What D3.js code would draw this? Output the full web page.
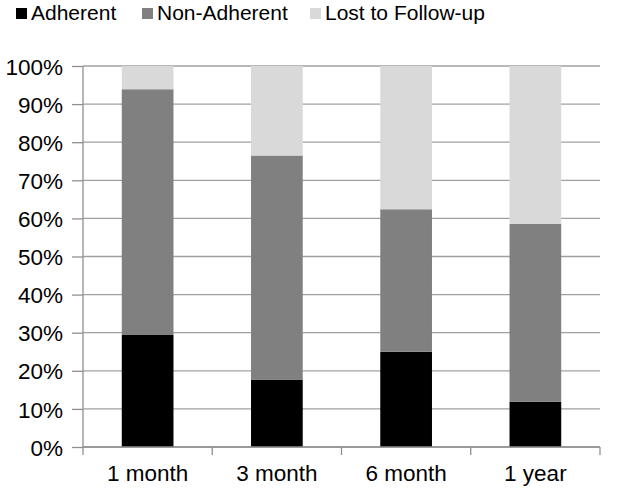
<!DOCTYPE html>
<html>
<head>
<meta charset="utf-8">
<script src="https://cdn.jsdelivr.net/npm/d3@7"></script>
<style>
  html, body { margin: 0; padding: 0; background: #fff; overflow: hidden; }
  svg { display: block; }
  text { font-family: "Liberation Sans", Arial, sans-serif; fill: #000; }
</style>
</head>
<body>
<svg width="618" height="489"></svg>
<script>
const categories = ["1 month", "3 month", "6 month", "1 year"];
const seriesNames = ["Adherent", "Non-Adherent", "Lost to Follow-up"];
const adherent = [29.4, 17.6, 25.0, 11.9];
const nonAdherent = [64.5, 58.9, 37.4, 46.7];
const lost = [6.1, 23.5, 37.6, 41.4];
const yTicks = [0, 10, 20, 30, 40, 50, 60, 70, 80, 90, 100];
const colors = ["#000000", "#808080", "#d9d9d9"];

const svg = d3.select("svg");
const margin = { top: 66, right: 18, bottom: 42, left: 83 };
const width = +svg.attr("width");
const height = +svg.attr("height");
const innerWidth = width - margin.left - margin.right;
const innerHeight = height - margin.top - margin.bottom;

const rows = categories.map((c, i) => ({
  cat: c,
  "Adherent": adherent[i],
  "Non-Adherent": nonAdherent[i],
  "Lost to Follow-up": lost[i],
}));
const stacked = d3.stack().keys(seriesNames)(rows);

const xScale = d3.scaleBand().domain(categories).range([0, innerWidth])
  .paddingInner(0.6).paddingOuter(0.3);
const yScale = d3.scaleLinear().domain([0, 100]).range([innerHeight, 0]);
const colorScale = d3.scaleOrdinal().domain(seriesNames).range(colors);

const g = svg.append("g").attr("transform", `translate(${margin.left},${margin.top})`);

// gridlines
g.append("g")
  .selectAll("line")
  .data(yTicks)
  .enter()
  .append("line")
  .attr("x1", 0)
  .attr("x2", innerWidth)
  .attr("y1", (d) => yScale(d))
  .attr("y2", (d) => yScale(d))
  .attr("stroke", "#a0a0a0")
  .attr("stroke-width", 1.3);

// bars
g.selectAll(".series")
  .data(stacked)
  .enter()
  .append("g")
  .attr("fill", (d) => colorScale(d.key))
  .selectAll("rect")
  .data((d) => d)
  .enter()
  .append("rect")
  .attr("x", (d) => xScale(d.data.cat))
  .attr("width", xScale.bandwidth())
  .attr("y", (d) => yScale(d[1]))
  .attr("height", (d) => yScale(d[0]) - yScale(d[1]));

// y axis
const yAxis = d3.axisLeft(yScale).tickValues(yTicks)
  .tickFormat((d) => d + "%").tickSize(11).tickPadding(9);
const yAxisG = g.append("g").call(yAxis);
yAxisG.selectAll("line, path").attr("stroke", "#909090").attr("stroke-width", 1.3);
yAxisG.select(".domain").attr("d", `M0,0V${innerHeight}`);
yAxisG.selectAll("text").attr("font-size", 22.5).attr("font-family", "Liberation Sans, Arial, sans-serif")
  .attr("dy", "0.36em");

// x axis
const xAxisG = g.append("g").attr("transform", `translate(0,${innerHeight})`);
xAxisG.append("line")
  .attr("x1", 0).attr("x2", innerWidth)
  .attr("stroke", "#909090").attr("stroke-width", 1.3);
const bounds = d3.range(categories.length + 1).map((i) => i * xScale.step());
xAxisG.selectAll(".tk")
  .data(bounds)
  .enter()
  .append("line")
  .attr("x1", (d) => d).attr("x2", (d) => d)
  .attr("y1", 0).attr("y2", 8)
  .attr("stroke", "#909090").attr("stroke-width", 1.3);
xAxisG.selectAll(".lbl")
  .data(categories)
  .enter()
  .append("text")
  .attr("x", (d) => xScale(d) + xScale.bandwidth() / 2)
  .attr("y", 34)
  .attr("text-anchor", "middle")
  .attr("font-size", 22.5)
  .text((d) => d);

// legend
const legendX = [16, 142, 310];
const legend = svg.append("g");
seriesNames.forEach((name, i) => {
  legend.append("rect")
    .attr("x", legendX[i]).attr("y", 8)
    .attr("width", 11).attr("height", 11)
    .attr("fill", colorScale(name));
  legend.append("text")
    .attr("x", legendX[i] + 15).attr("y", 19.5)
    .attr("font-size", 21)
    .text(name);
});
</script>
</body>
</html>
